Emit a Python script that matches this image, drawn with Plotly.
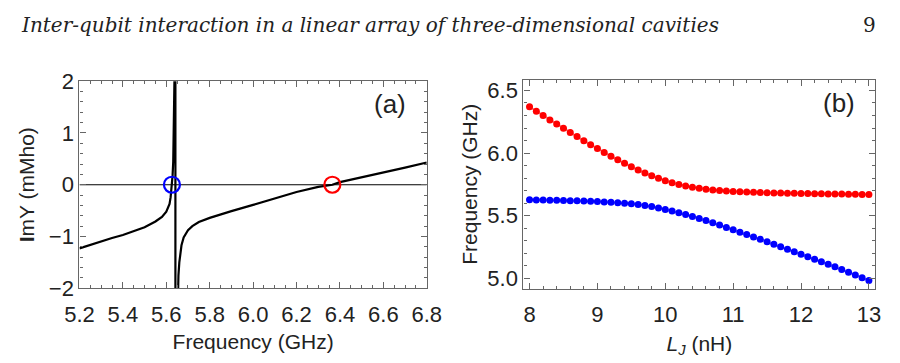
import plotly.graph_objects as go

# ---------------- Panel (a): Im Y vs frequency ----------------
freq_a = [5.20, 5.25, 5.30, 5.35, 5.40, 5.45, 5.50, 5.55, 5.58, 5.60, 5.61, 5.615, 5.62, 5.623,
          5.626, 5.629, 5.632, 5.635, 5.637, 5.639, 5.641, 5.642,
          5.642, 5.650, 5.653, 5.656, 5.660, 5.665, 5.670, 5.680, 5.690, 5.700, 5.720, 5.750,
          5.800, 5.850, 5.900, 6.000, 6.100, 6.200, 6.300, 6.365, 6.400, 6.500, 6.600, 6.700, 6.800]
imy_a = [-1.23, -1.16, -1.09, -1.03, -0.97, -0.90, -0.82, -0.71, -0.62, -0.52, -0.44, -0.37, -0.24, -0.13,
         0.00, 0.18, 0.45, 0.95, 1.45, 2.05, 3.0, 3.0,
         -3.0, -3.0, -2.0, -1.75, -1.50, -1.30, -1.17, -1.02, -0.94, -0.88, -0.80, -0.72,
         -0.64, -0.57, -0.51, -0.39, -0.26, -0.14, -0.04, 0.00, 0.05, 0.14, 0.24, 0.33, 0.43]
zero_freq_blue = [5.626]
zero_freq_red = [6.365]

# ---------------- Panel (b): Frequencies vs L_J ----------------
lj = [8.0, 8.1, 8.2, 8.3, 8.4, 8.5, 8.6, 8.7, 8.8, 8.9,
      9.0, 9.1, 9.2, 9.3, 9.4, 9.5, 9.6, 9.7, 9.8, 9.9,
      10.0, 10.1, 10.2, 10.3, 10.4, 10.5, 10.6, 10.7, 10.8, 10.9,
      11.0, 11.1, 11.2, 11.3, 11.4, 11.5, 11.6, 11.7, 11.8, 11.9,
      12.0, 12.1, 12.2, 12.3, 12.4, 12.5, 12.6, 12.7, 12.8, 12.9, 13.0]
f_upper = [6.370, 6.335, 6.300, 6.265, 6.232, 6.198, 6.165, 6.132, 6.099, 6.067,
           6.036, 6.005, 5.975, 5.946, 5.918, 5.891, 5.865, 5.841, 5.819, 5.798,
           5.780, 5.764, 5.750, 5.738, 5.728, 5.719, 5.712, 5.706, 5.701, 5.697,
           5.694, 5.691, 5.689, 5.687, 5.685, 5.684, 5.682, 5.681, 5.680, 5.679,
           5.678, 5.677, 5.676, 5.675, 5.674, 5.674, 5.673, 5.672, 5.671, 5.670, 5.669]
f_lower = [5.627, 5.626, 5.625, 5.624, 5.623, 5.622, 5.620, 5.619, 5.617, 5.615,
           5.613, 5.610, 5.607, 5.604, 5.600, 5.595, 5.589, 5.582, 5.573, 5.562,
           5.550, 5.538, 5.524, 5.509, 5.494, 5.478, 5.461, 5.443, 5.425, 5.406,
           5.387, 5.368, 5.349, 5.330, 5.311, 5.292, 5.272, 5.252, 5.232, 5.212,
           5.192, 5.172, 5.152, 5.132, 5.112, 5.092, 5.071, 5.049, 5.027, 5.005, 4.983]

FONT = "Liberation Sans, Arial, sans-serif"
TXT = "#222222"
FRAME = "#666666"
SERIF = "DejaVu Serif, Liberation Serif, serif"

fig = go.Figure()

# zero line in panel (a)
fig.add_trace(go.Scatter(x=[5.2, 6.8], y=[0, 0], mode="lines",
                         line=dict(color="black", width=1.2), xaxis="x", yaxis="y",
                         showlegend=False, hoverinfo="skip"))
fig.add_trace(go.Scatter(x=freq_a, y=imy_a, mode="lines",
                         line=dict(color="black", width=2.2), xaxis="x", yaxis="y",
                         showlegend=False))
fig.add_trace(go.Scatter(x=zero_freq_blue, y=[0], mode="markers",
                         marker=dict(symbol="circle-open", size=16, color="blue",
                                     line=dict(color="blue", width=2.2)),
                         xaxis="x", yaxis="y", showlegend=False))
fig.add_trace(go.Scatter(x=zero_freq_red, y=[0], mode="markers",
                         marker=dict(symbol="circle-open", size=16, color="red",
                                     line=dict(color="red", width=2.2)),
                         xaxis="x", yaxis="y", showlegend=False))

# panel (b)
fig.add_trace(go.Scatter(x=lj, y=f_upper, mode="lines+markers",
                         line=dict(color="rgb(255,120,120)", width=2),
                         marker=dict(color="red", size=7),
                         xaxis="x2", yaxis="y2", showlegend=False))
fig.add_trace(go.Scatter(x=lj, y=f_lower, mode="lines+markers",
                         line=dict(color="rgb(120,120,255)", width=2),
                         marker=dict(color="blue", size=7),
                         xaxis="x2", yaxis="y2", showlegend=False))

common = dict(showline=True, linecolor=FRAME, linewidth=1.2, mirror="ticks",
              ticks="inside", ticklen=6, tickwidth=1.1, tickcolor=FRAME,
              showgrid=False, zeroline=False,
              tickfont=dict(family=FONT, size=22, color=TXT))
TITLEFONT = dict(family=FONT, size=21, color=TXT)

fig.update_layout(
    width=900, height=363,
    margin=dict(l=0, r=0, t=0, b=0),
    paper_bgcolor="white", plot_bgcolor="white",
    xaxis=dict(domain=[0.0741, 0.4733], range=[5.2, 6.8], tickmode="array",
               tickvals=[5.2, 5.4, 5.6, 5.8, 6.0, 6.2, 6.4, 6.6, 6.8],
               ticktext=["5.2", "5.4", "5.6", "5.8", "6.0", "6.2", "6.4", "6.6", "6.8"],
               minor=dict(dtick=0.05, tick0=5.2, ticks="inside", ticklen=3, tickcolor=FRAME),
               ticklabelstandoff=6,
               title=dict(text="Frequency (GHz)", font=TITLEFONT, standoff=8),
               anchor="y", **common),
    yaxis=dict(domain=[0.1826, 0.7953], range=[-2, 2], tickmode="array",
               tickvals=[-2, -1, 0, 1, 2], ticktext=["−2", "−1", "0", "1", "2"],
               minor=dict(dtick=0.2, tick0=0, ticks="inside", ticklen=3, tickcolor=FRAME),
               title=dict(text="<b>I</b>mY (mMho)", font=TITLEFONT, standoff=8),
               anchor="x", **common),
    xaxis2=dict(domain=[0.5844, 0.9889], range=[7.91, 13.095], tickmode="array",
                tickvals=[8, 9, 10, 11, 12, 13],
                minor=dict(dtick=0.2, tick0=8, ticks="inside", ticklen=3, tickcolor=FRAME),
                ticklabelstandoff=6,
                title=dict(text="<i>L<sub>J</sub></i> (nH)", font=TITLEFONT, standoff=9),
                anchor="y2", **common),
    yaxis2=dict(domain=[0.181, 0.7997], range=[4.916, 6.586], tickmode="array",
                tickvals=[5.0, 5.5, 6.0, 6.5], ticktext=["5.0", "5.5", "6.0", "6.5"],
                minor=dict(dtick=0.1, tick0=5.0, ticks="inside", ticklen=3, tickcolor=FRAME),
                title=dict(text="Frequency (GHz)", font=TITLEFONT, standoff=3),
                anchor="x2", **common),
    annotations=[
        dict(text="Inter-qubit interaction in a linear array of three-dimensional cavities",
             x=4 / 900, y=1 - 14 / 363, xref="paper", yref="paper", xanchor="left", yanchor="middle",
             showarrow=False, font=dict(family=SERIF, size=20, color="#222222", style="italic")),
        dict(text="9", x=893 / 900, y=1 - 14 / 363, xref="paper", yref="paper", xanchor="right",
             yanchor="middle", showarrow=False,
             font=dict(family=SERIF, size=20, color="#222222")),
        dict(text="(a)", x=388 / 900, y=1 - 99 / 363, xref="paper", yref="paper", xanchor="center",
             yanchor="middle", showarrow=False, font=dict(family=FONT, size=26, color=TXT)),
        dict(text="(b)", x=852 / 900, y=1 - 98 / 363, xref="paper", yref="paper", xanchor="center",
             yanchor="middle", showarrow=False, font=dict(family=FONT, size=26, color=TXT)),
    ],
)

fig.write_html("out.html")
